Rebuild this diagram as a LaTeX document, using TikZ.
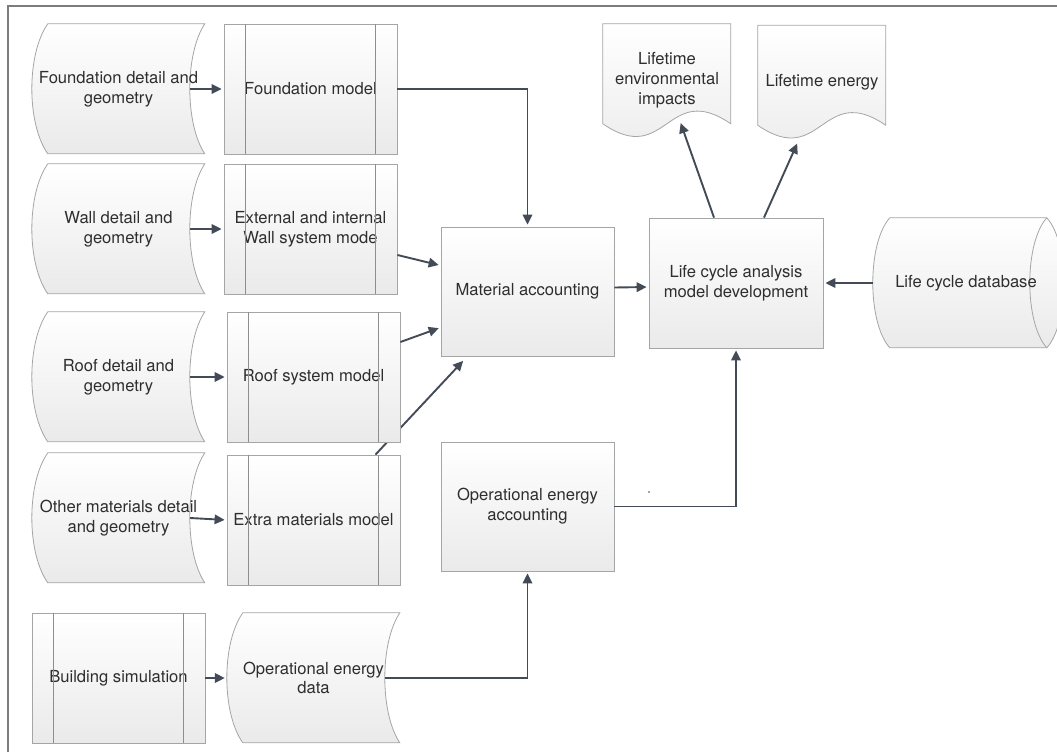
\documentclass[tikz,border=0pt]{standalone}
\usepackage{fontspec}
\setmainfont{TeX Gyre Heros}
\usetikzlibrary{arrows.meta,calc,backgrounds}

\definecolor{boxline}{HTML}{A5A5A5}
\definecolor{boxfill}{HTML}{EAEAEA}
\definecolor{barline}{HTML}{8E8E8E}
\definecolor{flowcol}{HTML}{434B57}
\definecolor{framecol}{HTML}{7C7C7C}
\definecolor{txtcol}{HTML}{2E2E2E}

\begin{document}
\begin{tikzpicture}[x=1pt, y=-1pt,
    every node/.style={font=\fontsize{16.6}{19.8}\selectfont, text=txtcol, align=center, inner sep=0pt},
    shadebox/.style={draw=boxline, line width=0.8pt, top color=white, bottom color=boxfill},
    procbox/.style={shadebox, minimum width=173pt, minimum height=130pt},
    plainbox/.style={shadebox, minimum width=173pt, minimum height=129pt},
    datashape/.style={minimum width=173pt, minimum height=130pt},
    docshape/.style={minimum width=128pt, minimum height=113pt},
    flow/.style={draw=flowcol, line width=1.9pt, -{Triangle[length=10pt,width=9.5pt]}, shorten >=2pt}]

    \useasboundingbox (0,0) rectangle (1057,752);

    % Draw the frame
    \draw[framecol, line width=2pt] (8,752) -- (8,6) -- (1057,6);

    % Draw the data inputs
    \node[datashape] (fdet) at (118.5, 89) {Foundation detail and\\geometry};
    \node[datashape] (wdet) at (118.5,229) {Wall detail and\\geometry};
    \node[datashape] (rdet) at (118.5,377) {Roof detail and\\geometry};
    \node[datashape] (odet) at (118.5,518) {Other materials detail\\and geometry};
    \node[datashape] (opdata) at (313.5,678) {Operational energy\\data};

    % Draw the models
    \node[procbox] (fmod) at (310.5, 89) {Foundation model};
    \node[procbox] (wmod) at (310.5,229) {External and internal\\Wall system mode};
    \node[procbox] (rmod) at (313.5,377) {Roof system model};
    \node[procbox] (xmod) at (313.5,520) {Extra materials model};
    \node[procbox] (bsim) at (118.5,678) {Building simulation};

    % Draw the accounting boxes
    \node[plainbox] (mat) at (527.5,291.5) {Material accounting};
    \node[plainbox] (oea) at (527.5,506.5) {Operational energy\\accounting};
    \node[plainbox, minimum width=174pt, minimum height=130pt] (lca) at (736,283) {Life cycle analysis\\model development};

    % Draw the outputs and the database
    \node[docshape] (imp) at (667,80.5) {Lifetime\\environmental\\impacts};
    \node[docshape] (ene) at (822,82) {Lifetime energy};
    \node[minimum width=174pt, minimum height=130pt] (lcdb) at (960,283) {\hspace{12pt}Life cycle database};

    \begin{pgfonlayer}{background}
      % Draw the curved data shapes
      \foreach \n in {fdet,wdet,rdet,odet,opdata}
        \draw[shadebox, shift={(\n.north west)}] (16,0) .. controls (-5.3,30) and (-5.3,100) .. (16,130)
          -- (173,130) .. controls (153,100) and (153,30) .. (173,0) -- cycle;

      % Draw the document shapes
      \foreach \n in {imp,ene}
        \draw[shadebox, shift={(\n.north west)}] (0,0) -- (128,0) -- (128,100)
          .. controls (64,56) and (64,144) .. (0,100) -- cycle;

      % Draw the storage drum
      \begin{scope}
        \clip (0,0) rectangle (1057,752);
        \draw[shadebox, shift={(lcdb.north west)}] (17,0) .. controls (-5.7,25) and (-5.7,105) .. (17,130)
          -- (174,130) .. controls (196.7,105) and (196.7,25) .. (174,0) -- cycle;
        \draw[boxline, line width=0.8pt, shift={(lcdb.north west)}] (174,0) .. controls (151.3,25) and (151.3,105) .. (174,130);
      \end{scope}

      % Line running behind the roof model
      \draw[flow] ([xshift=62pt]xmod.north) -- ([xshift=-63pt,yshift=-3pt]mat.south);
    \end{pgfonlayer}

    % Draw the side bars of the models
    \foreach \n in {fmod,wmod,rmod,xmod,bsim} {
      \draw[barline, line width=0.9pt] ([xshift=21.5pt]\n.north west) -- ([xshift=21.5pt]\n.south west);
      \draw[barline, line width=0.9pt] ([xshift=-21.5pt]\n.north east) -- ([xshift=-21.5pt]\n.south east);
    }

    % Draw the arrows into the models
    \draw[flow] ([xshift=-15pt]fdet.east) -- (fmod.west);
    \draw[flow] ([xshift=-15pt]wdet.east) -- (wmod.west);
    \draw[flow] ([xshift=-15pt]rdet.east) -- (rmod.west);
    \draw[flow] ([xshift=-15pt]odet.east) -- (xmod.west);
    \draw[flow] (bsim.east) -- (opdata.west);

    % Draw the arrows into the accounting
    \draw[flow] (fmod.east) -| (mat.north);
    \draw[flow] ([yshift=-26pt]wmod.east) -- ([yshift=26pt]mat.west);
    \draw[flow] ([yshift=35pt]rmod.east) -- ([yshift=-36pt]mat.west);
    \draw[flow] ([xshift=-15pt]opdata.east) -| (oea.south);

    % Draw the arrows into and out of the analysis
    \draw[flow] ([yshift=4pt]mat.east) -- ([yshift=-4pt]lca.west);
    \draw[flow] (oea.east) -| (lca.south);
    \draw[flow] (lcdb.west) -- (lca.east);
    \draw[flow] ([xshift=-22pt]lca.north) -- ($(imp.south)+(13,-16)$);
    \draw[flow] ([xshift=28pt]lca.north) -- ($(ene.south)+(-24,3)$);

    \fill[flowcol] (649,492) circle (0.8);

\end{tikzpicture}
\end{document}
